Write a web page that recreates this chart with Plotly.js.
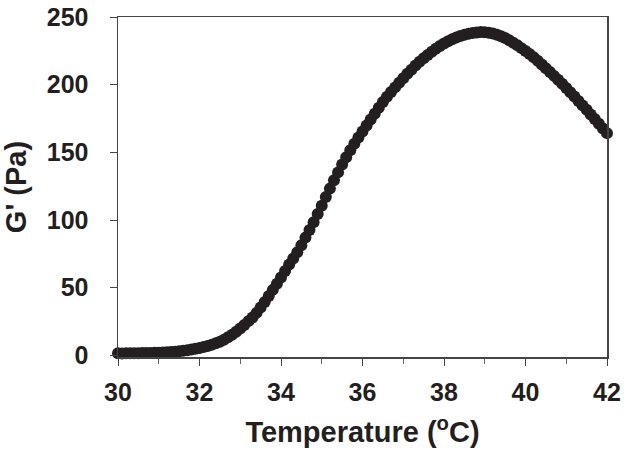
<!DOCTYPE html>
<html>
<head>
<meta charset="utf-8">
<script src="https://cdn.plot.ly/plotly-3.0.1.min.js"></script>
<style>
  html, body { margin: 0; padding: 0; background: #fff; }
  #chart { width: 629px; height: 459px; }
</style>
</head>
<body>
<div id="chart"></div>
<script>
// temperature (oC)
const temperature = [
  30.0, 30.1, 30.2, 30.3, 30.4, 30.5, 30.6, 30.7, 30.8, 30.9,
  31.0, 31.1, 31.2, 31.3, 31.4, 31.5, 31.6, 31.7, 31.8, 31.9,
  32.0, 32.1, 32.2, 32.3, 32.4, 32.5, 32.6, 32.7, 32.8, 32.9,
  33.0, 33.1, 33.2, 33.3, 33.4, 33.5, 33.6, 33.7, 33.8, 33.9,
  34.0, 34.1, 34.2, 34.3, 34.4, 34.5, 34.6, 34.7, 34.8, 34.9,
  35.0, 35.1, 35.2, 35.3, 35.4, 35.5, 35.6, 35.7, 35.8, 35.9,
  36.0, 36.1, 36.2, 36.3, 36.4, 36.5, 36.6, 36.7, 36.8, 36.9,
  37.0, 37.1, 37.2, 37.3, 37.4, 37.5, 37.6, 37.7, 37.8, 37.9,
  38.0, 38.1, 38.2, 38.3, 38.4, 38.5, 38.6, 38.7, 38.8, 38.9,
  39.0, 39.1, 39.2, 39.3, 39.4, 39.5, 39.6, 39.7, 39.8, 39.9,
  40.0, 40.1, 40.2, 40.3, 40.4, 40.5, 40.6, 40.7, 40.8, 40.9,
  41.0, 41.1, 41.2, 41.3, 41.4, 41.5, 41.6, 41.7, 41.8, 41.9,
  42.0
];

// storage modulus G' (Pa)
const gPrime = [
  1.5, 1.4, 1.5, 1.5, 1.6, 1.6, 1.7, 1.7, 1.8, 1.9,
  2.0, 2.1, 2.3, 2.5, 2.7, 3.0, 3.4, 3.8, 4.3, 4.9,
  5.5, 6.2, 7.0, 7.9, 8.9, 10.0, 11.6, 13.4, 15.3, 17.4,
  19.8, 22.4, 25.3, 28.0, 31.4, 35.3, 39.4, 43.8, 48.4, 53.0,
  57.6, 62.4, 67.2, 71.6, 76.2, 81.4, 87.0, 92.6, 98.4, 104.4,
  110.6, 117.0, 123.2, 129.4, 135.2, 141.0, 146.4, 151.6, 156.4, 161.0,
  165.4, 169.8, 174.2, 178.6, 183.0, 187.2, 191.0, 194.6, 198.0, 201.4,
  204.7, 208.0, 211.0, 214.2, 217.0, 219.6, 222.0, 224.4, 226.6, 228.6,
  230.4, 232.0, 233.6, 234.9, 236.0, 236.8, 237.6, 238.2, 238.6, 238.9,
  238.8, 238.4, 237.8, 236.9, 235.8, 234.4, 232.8, 231.0, 229.1, 227.0,
  224.8, 222.6, 220.2, 217.6, 214.9, 212.2, 209.4, 206.5, 203.6, 200.6,
  197.6, 194.4, 191.2, 188.0, 184.7, 181.4, 178.0, 174.6, 171.2, 167.7,
  164.2
];

const xTicks = [30, 32, 34, 36, 38, 40, 42];
const yTicks = [0, 50, 100, 150, 200, 250];

const ink = '#231f20';
const fontFam = 'Arial, "Liberation Sans", sans-serif';

const data = [
  {
    x: temperature,
    y: gPrime,
    type: 'scatter',
    mode: 'markers',
    marker: {color: ink, size: 12},
    cliponaxis: false,
    hoverinfo: 'x+y'
  }
];

const layout = {
  width: 629,
  height: 459,
  margin: {l: 118, r: 22, t: 17, b: 102},
  paper_bgcolor: '#fff',
  plot_bgcolor: '#fff',
  showlegend: false,
  font: {family: fontFam, color: ink},
  xaxis: {
    range: [30, 42],
    tickvals: xTicks,
    ticks: 'outside',
    ticklen: 7,
    tickwidth: 1,
    tickcolor: '#444',
    minor: {dtick: 1, ticks: 'outside', ticklen: 5, tickcolor: '#666'},
    showline: true,
    linecolor: '#444',
    linewidth: 1.5,
    mirror: true,
    showgrid: false,
    zeroline: false,
    tickfont: {size: 25, family: fontFam, weight: 'bold', color: ink},
    ticklabelstandoff: 5,
    title: {
      text: 'Temperature (<sup>o</sup>C)',
      font: {size: 29, family: fontFam, weight: 'bold', color: ink},
      standoff: 17
    }
  },
  yaxis: {
    range: [-1.2, 250],
    tickvals: yTicks,
    ticks: 'outside',
    ticklen: 7,
    tickwidth: 1,
    tickcolor: '#444',
    showline: true,
    linecolor: '#444',
    linewidth: 1.5,
    mirror: true,
    showgrid: false,
    zeroline: false,
    tickfont: {size: 25, family: fontFam, weight: 'bold', color: ink},
    ticklabelstandoff: 16,
    title: {
      text: "G' (Pa)",
      font: {size: 29, family: fontFam, weight: 'bold', color: ink},
      standoff: 12
    }
  }
};

Plotly.newPlot('chart', data, layout, {displayModeBar: false, staticPlot: true});
</script>
</body>
</html>
